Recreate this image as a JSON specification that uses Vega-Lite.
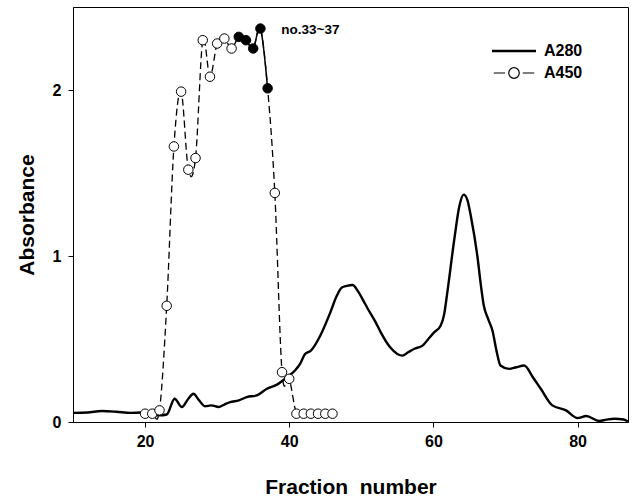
{
  "$schema": "https://vega.github.io/schema/vega-lite/v6.json",
  "width": 555,
  "height": 415,
  "autosize": {"type": "none"},
  "padding": {"left": 73, "top": 7, "right": 5, "bottom": 81},
  "background": "white",
  "config": {
    "view": {"stroke": "black", "strokeWidth": 1},
    "font": "Liberation Sans",
    "axis": {
      "domainColor": "black",
      "tickColor": "black",
      "tickSize": 5,
      "grid": false,
      "labelFont": "Liberation Sans",
      "labelFontSize": 16,
      "labelFontWeight": "bold",
      "labelColor": "black",
      "titleFont": "Liberation Sans",
      "titleFontSize": 21,
      "titleFontWeight": "bold",
      "titleColor": "black"
    }
  },
  "datasets": {
    "main": [
      {"series": "A280", "fraction": 10, "abs": 0.055},
      {"series": "A280", "fraction": 12, "abs": 0.057},
      {"series": "A280", "fraction": 14, "abs": 0.066},
      {"series": "A280", "fraction": 16, "abs": 0.062},
      {"series": "A280", "fraction": 18, "abs": 0.055},
      {"series": "A280", "fraction": 19.5, "abs": 0.057},
      {"series": "A280", "fraction": 20.5, "abs": 0.045},
      {"series": "A280", "fraction": 22, "abs": 0.04},
      {"series": "A280", "fraction": 23, "abs": 0.045},
      {"series": "A280", "fraction": 24.1, "abs": 0.14},
      {"series": "A280", "fraction": 25.1, "abs": 0.09},
      {"series": "A280", "fraction": 26, "abs": 0.14},
      {"series": "A280", "fraction": 26.7, "abs": 0.17},
      {"series": "A280", "fraction": 27.5, "abs": 0.13},
      {"series": "A280", "fraction": 28.3, "abs": 0.095},
      {"series": "A280", "fraction": 29.2, "abs": 0.1},
      {"series": "A280", "fraction": 30.2, "abs": 0.09},
      {"series": "A280", "fraction": 31, "abs": 0.105},
      {"series": "A280", "fraction": 31.8, "abs": 0.12},
      {"series": "A280", "fraction": 33, "abs": 0.13},
      {"series": "A280", "fraction": 34.1, "abs": 0.15},
      {"series": "A280", "fraction": 35.5, "abs": 0.16},
      {"series": "A280", "fraction": 36.9, "abs": 0.2},
      {"series": "A280", "fraction": 38.3, "abs": 0.225},
      {"series": "A280", "fraction": 39.7, "abs": 0.27},
      {"series": "A280", "fraction": 40.8, "abs": 0.31},
      {"series": "A280", "fraction": 41.5, "abs": 0.35},
      {"series": "A280", "fraction": 42.2, "abs": 0.41},
      {"series": "A280", "fraction": 43, "abs": 0.43},
      {"series": "A280", "fraction": 44.3, "abs": 0.52},
      {"series": "A280", "fraction": 45.7, "abs": 0.66},
      {"series": "A280", "fraction": 46.6, "abs": 0.76},
      {"series": "A280", "fraction": 47.3, "abs": 0.81},
      {"series": "A280", "fraction": 48, "abs": 0.82},
      {"series": "A280", "fraction": 48.8, "abs": 0.825},
      {"series": "A280", "fraction": 49.5, "abs": 0.79},
      {"series": "A280", "fraction": 50.3, "abs": 0.73},
      {"series": "A280", "fraction": 50.8, "abs": 0.69},
      {"series": "A280", "fraction": 52, "abs": 0.6},
      {"series": "A280", "fraction": 52.7, "abs": 0.54},
      {"series": "A280", "fraction": 54, "abs": 0.45},
      {"series": "A280", "fraction": 55, "abs": 0.41},
      {"series": "A280", "fraction": 55.7, "abs": 0.4},
      {"series": "A280", "fraction": 56.5, "abs": 0.42},
      {"series": "A280", "fraction": 57.3, "abs": 0.44},
      {"series": "A280", "fraction": 58.5, "abs": 0.46},
      {"series": "A280", "fraction": 59.3, "abs": 0.5},
      {"series": "A280", "fraction": 60.1, "abs": 0.54},
      {"series": "A280", "fraction": 61, "abs": 0.58},
      {"series": "A280", "fraction": 61.5, "abs": 0.65},
      {"series": "A280", "fraction": 61.9, "abs": 0.77},
      {"series": "A280", "fraction": 62.9, "abs": 1.1},
      {"series": "A280", "fraction": 63.6, "abs": 1.3},
      {"series": "A280", "fraction": 64.2, "abs": 1.37},
      {"series": "A280", "fraction": 64.7, "abs": 1.34},
      {"series": "A280", "fraction": 65.2, "abs": 1.24},
      {"series": "A280", "fraction": 66.1, "abs": 1.0},
      {"series": "A280", "fraction": 66.6, "abs": 0.82},
      {"series": "A280", "fraction": 67, "abs": 0.7},
      {"series": "A280", "fraction": 67.6, "abs": 0.62},
      {"series": "A280", "fraction": 68.2, "abs": 0.55},
      {"series": "A280", "fraction": 68.8, "abs": 0.42},
      {"series": "A280", "fraction": 69.3, "abs": 0.34},
      {"series": "A280", "fraction": 70.5, "abs": 0.32},
      {"series": "A280", "fraction": 71.5, "abs": 0.33},
      {"series": "A280", "fraction": 72.6, "abs": 0.34},
      {"series": "A280", "fraction": 73.8, "abs": 0.27},
      {"series": "A280", "fraction": 74.9, "abs": 0.2},
      {"series": "A280", "fraction": 76.5, "abs": 0.1},
      {"series": "A280", "fraction": 78.4, "abs": 0.07},
      {"series": "A280", "fraction": 80, "abs": 0.024},
      {"series": "A280", "fraction": 81.2, "abs": 0.036},
      {"series": "A280", "fraction": 83, "abs": 0.006},
      {"series": "A280", "fraction": 84, "abs": 0.014},
      {"series": "A280", "fraction": 85.1, "abs": 0.02},
      {"series": "A280", "fraction": 86.4, "abs": 0.015},
      {"series": "A280", "fraction": 87, "abs": 0.003},
      {"series": "A450", "fraction": 20, "abs": 0.05, "pool": false},
      {"series": "A450", "fraction": 21, "abs": 0.05, "pool": false},
      {"series": "A450", "fraction": 22, "abs": 0.07, "pool": false},
      {"series": "A450", "fraction": 23, "abs": 0.7, "pool": false},
      {"series": "A450", "fraction": 24, "abs": 1.66, "pool": false},
      {"series": "A450", "fraction": 25, "abs": 1.99, "pool": false},
      {"series": "A450", "fraction": 26, "abs": 1.52, "pool": false},
      {"series": "A450", "fraction": 27, "abs": 1.59, "pool": false},
      {"series": "A450", "fraction": 28, "abs": 2.3, "pool": false},
      {"series": "A450", "fraction": 29, "abs": 2.08, "pool": false},
      {"series": "A450", "fraction": 30, "abs": 2.28, "pool": false},
      {"series": "A450", "fraction": 31, "abs": 2.31, "pool": false},
      {"series": "A450", "fraction": 32, "abs": 2.25, "pool": false},
      {"series": "A450", "fraction": 33, "abs": 2.32, "pool": true},
      {"series": "A450", "fraction": 34, "abs": 2.3, "pool": true},
      {"series": "A450", "fraction": 35, "abs": 2.25, "pool": true},
      {"series": "A450", "fraction": 36, "abs": 2.37, "pool": true},
      {"series": "A450", "fraction": 37, "abs": 2.01, "pool": true},
      {"series": "A450", "fraction": 38, "abs": 1.38, "pool": false},
      {"series": "A450", "fraction": 39, "abs": 0.3, "pool": false},
      {"series": "A450", "fraction": 40, "abs": 0.26, "pool": false},
      {"series": "A450", "fraction": 41, "abs": 0.05, "pool": false},
      {"series": "A450", "fraction": 42, "abs": 0.05, "pool": false},
      {"series": "A450", "fraction": 43, "abs": 0.05, "pool": false},
      {"series": "A450", "fraction": 44, "abs": 0.05, "pool": false},
      {"series": "A450", "fraction": 45, "abs": 0.05, "pool": false},
      {"series": "A450", "fraction": 46, "abs": 0.05, "pool": false}
    ],
    "notes": [
      {"label": "no.33~37", "fraction": 38.9, "abs": 2.36}
    ]
  },
  "encoding": {
    "x": {
      "field": "fraction", "type": "quantitative",
      "scale": {"domain": [10, 87], "nice": false, "zero": false},
      "axis": {"values": [20, 40, 60, 80], "title": "Fraction\u00a0 number", "titlePadding": 27, "labelPadding": 6}
    },
    "y": {
      "field": "abs", "type": "quantitative",
      "scale": {"domain": [0, 2.5], "nice": false},
      "axis": {"values": [0, 1, 2], "title": "Absorbance", "titlePadding": 15, "labelPadding": 7}
    }
  },
  "layer": [
    {
      "data": {"name": "main"},
      "transform": [{"filter": "datum.series === 'A280'"}],
      "mark": {"type": "line", "strokeWidth": 2.4, "interpolate": "monotone"},
      "encoding": {
        "color": {
          "field": "series", "type": "nominal",
          "scale": {"domain": ["A280", "A450"], "range": ["black", "black"]},
          "legend": {
            "orient": "none", "legendX": 433, "legendY": 36, "title": null, "padding": 0,
            "labelFont": "Liberation Sans", "labelFontSize": 16, "labelFontWeight": "bold", "labelColor": "black",
            "labelOffset": 22, "symbolSize": 1936, "rowPadding": 6,
            "symbolType": "stroke",
            "encode": {
              "symbols": {
                "update": {
                  "shape": {"signal": "datum.value === 'A280' ? 'M-1,0H1' : 'M-0.92,0H-0.4M0.4,0H0.92M0.24,0A0.24,0.24,0,1,1,-0.24,0A0.24,0.24,0,1,1,0.24,0'"},
                  "strokeWidth": {"signal": "datum.value === 'A280' ? 2.4 : 1.2"},
                  "fill": {"value": "white"},
                  "stroke": {"value": "black"}
                }
              }
            }
          }
        }
      }
    },
    {
      "data": {"name": "main"},
      "transform": [{"filter": "datum.series === 'A450'"}],
      "mark": {"type": "line", "strokeWidth": 1.3, "strokeDash": [7, 4], "interpolate": "cardinal"},
      "encoding": {"color": {"field": "series", "type": "nominal"}}
    },
    {
      "data": {"name": "main"},
      "transform": [{"filter": "datum.series === 'A450' && datum.pool"}],
      "mark": {"type": "line", "strokeWidth": 1.5, "color": "black", "interpolate": "cardinal"},
      "encoding": {}
    },
    {
      "data": {"name": "main"},
      "transform": [{"filter": "datum.series === 'A450' && !datum.pool"}],
      "mark": {"type": "point", "shape": "circle", "size": 90, "filled": false, "fill": "white", "fillOpacity": 1, "stroke": "black", "strokeWidth": 1, "opacity": 1},
      "encoding": {}
    },
    {
      "data": {"name": "main"},
      "transform": [{"filter": "datum.series === 'A450' && datum.pool"}],
      "mark": {"type": "point", "shape": "circle", "size": 90, "filled": true, "fill": "black", "stroke": "black", "strokeWidth": 1, "opacity": 1},
      "encoding": {}
    },
    {
      "data": {"name": "notes"},
      "mark": {"type": "text", "align": "left", "baseline": "middle", "font": "Liberation Sans", "fontSize": 13.5, "fontWeight": "bold", "color": "black"},
      "encoding": {"text": {"field": "label"}}
    }
  ]
}
